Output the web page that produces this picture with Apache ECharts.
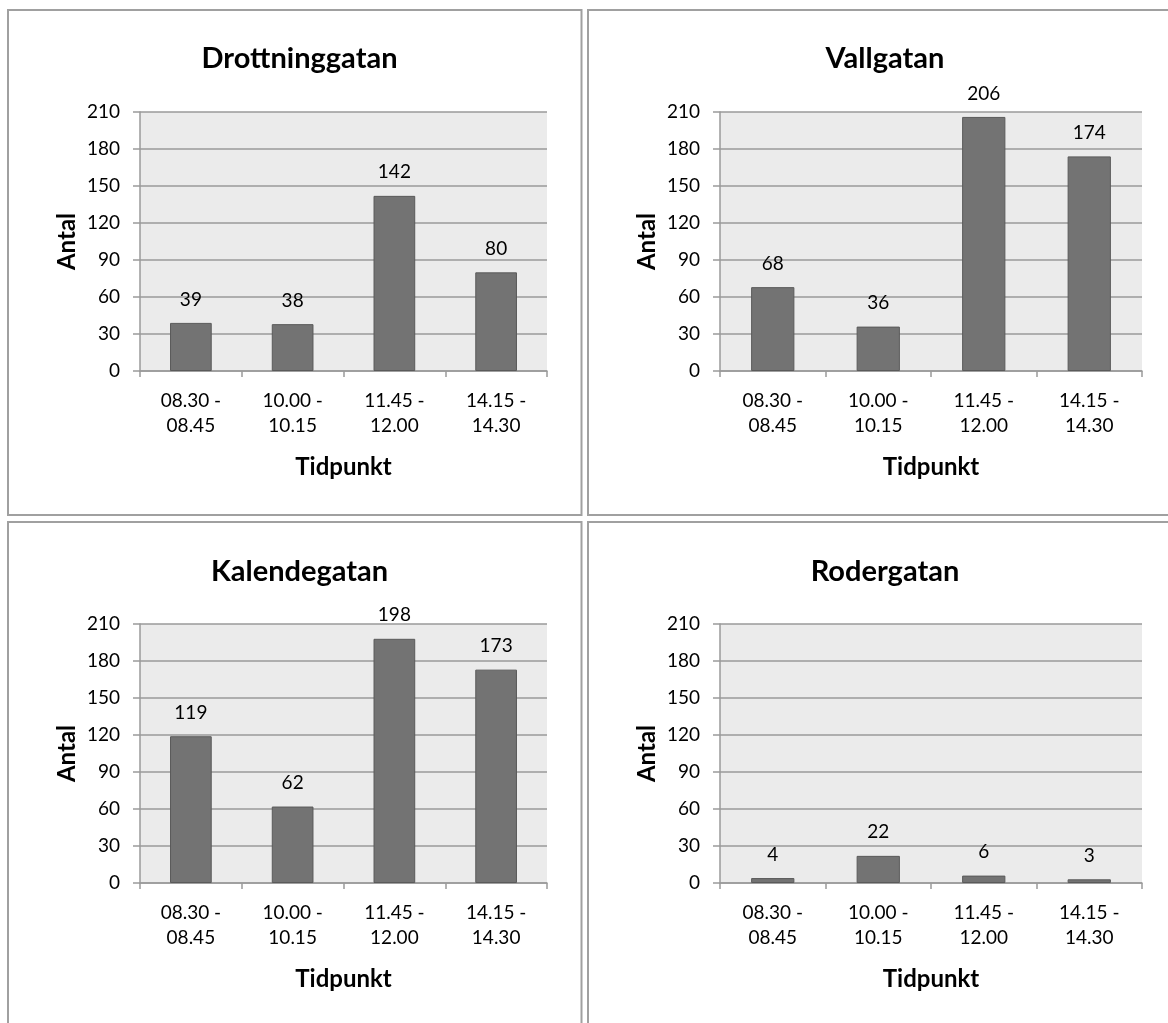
<!DOCTYPE html>
<html>
<head>
<meta charset="utf-8">
<title>Antal per tidpunkt</title>
<script src="https://cdn.jsdelivr.net/npm/echarts@6/dist/echarts.min.js"></script>
<style>
  html, body { margin: 0; padding: 0; background: #ffffff; }
  #chart { width: 1168px; height: 1023px; }
</style>
</head>
<body>
<div id="chart"></div>
<script>
// Time slots on the x axis
const categories = ['08.30 -\n08.45', '10.00 -\n10.15', '11.45 -\n12.00', '14.15 -\n14.30'];

// Street names, one panel each
const streets = ['Drottninggatan', 'Vallgatan', 'Kalendegatan', 'Rodergatan'];

// Counts per street and time slot
const drottninggatan = [39, 38, 142, 80];
const vallgatan = [68, 36, 206, 174];
const kalendegatan = [119, 62, 198, 173];
const rodergatan = [4, 22, 6, 3];

// Value axis ticks
const yTicks = [0, 30, 60, 90, 120, 150, 180, 210];

const yAxisName = 'Antal';
const xAxisName = 'Tidpunkt';

const seriesValues = [drottninggatan, vallgatan, kalendegatan, rodergatan];

const FONT = 'Lato, "Open Sans", sans-serif';
const LINE = '#9a9a9a';

// Panel frames and plot rectangles
const panels = [
  { x: 8,   y: 10,  w: 573.5, h: 505 },
  { x: 588, y: 10,  w: 600,   h: 505 },
  { x: 8,   y: 522, w: 573.5, h: 520 },
  { x: 588, y: 522, w: 600,   h: 520 }
];
const plots = [
  { left: 140, top: 112, width: 407, height: 259 },
  { left: 720, top: 112, width: 422, height: 259 },
  { left: 140, top: 624, width: 407, height: 259 },
  { left: 720, top: 624, width: 422, height: 259 }
];
const titleCenters = [
  { x: 294.5, y: 39 },
  { x: 880,   y: 39 },
  { x: 294.5, y: 552 },
  { x: 880,   y: 552 }
];

const chart = echarts.init(document.getElementById('chart'), null, { renderer: 'canvas' });

const option = {
  backgroundColor: '#ffffff',
  animation: false,
  title: streets.map((s, i) => ({
    text: s,
    left: titleCenters[i].x,
    top: titleCenters[i].y,
    textAlign: 'center',
    textStyle: { fontFamily: FONT, fontSize: 29, fontWeight: 'bold', color: '#000' }
  })),
  graphic: panels.map(p => ({
    type: 'rect',
    shape: { x: p.x, y: p.y, width: p.w, height: p.h },
    style: { fill: 'none', stroke: '#a0a0a0', lineWidth: 2 },
    z: 0
  })),
  grid: plots.map(g => ({
    left: g.left, top: g.top, width: g.width, height: g.height,
    show: true, backgroundColor: '#ebebeb', borderWidth: 0
  })),
  xAxis: plots.map((g, i) => ({
    type: 'category',
    gridIndex: i,
    data: categories,
    name: xAxisName,
    nameLocation: 'middle',
    nameGap: 84,
    nameTextStyle: { fontFamily: FONT, fontSize: 24, fontWeight: 'bold', color: '#000' },
    axisLine: { show: true, lineStyle: { color: LINE, width: 1.5 } },
    axisTick: { show: true, length: 6, lineStyle: { color: LINE, width: 1.5 } },
    axisLabel: { fontFamily: FONT, fontSize: 19, color: '#000', margin: 17, lineHeight: 25 },
    splitLine: { show: false }
  })),
  yAxis: plots.map((g, i) => ({
    type: 'value',
    gridIndex: i,
    min: yTicks[0],
    max: yTicks[yTicks.length - 1],
    interval: yTicks[1] - yTicks[0],
    name: yAxisName,
    nameLocation: 'middle',
    nameRotate: 90,
    nameGap: 61,
    nameTextStyle: { fontFamily: FONT, fontSize: 24, fontWeight: 'bold', color: '#000' },
    axisLine: { show: true, lineStyle: { color: LINE, width: 1.5 } },
    axisTick: { show: true, length: 7, lineStyle: { color: LINE, width: 1.5 } },
    axisLabel: { fontFamily: FONT, fontSize: 19, color: '#000', margin: 20 },
    splitLine: { show: true, lineStyle: { color: LINE, width: 1.5 } }
  })),
  series: seriesValues.map((vals, i) => ({
    type: 'bar',
    name: streets[i],
    xAxisIndex: i,
    yAxisIndex: i,
    data: vals,
    barWidth: '41%',
    itemStyle: { color: '#737373', borderColor: '#5a5a5a', borderWidth: 1 },
    label: {
      show: true,
      position: 'top',
      distance: 14,
      fontFamily: FONT,
      fontSize: 19,
      color: '#000'
    }
  }))
};

chart.setOption(option);
</script>
</body>
</html>
